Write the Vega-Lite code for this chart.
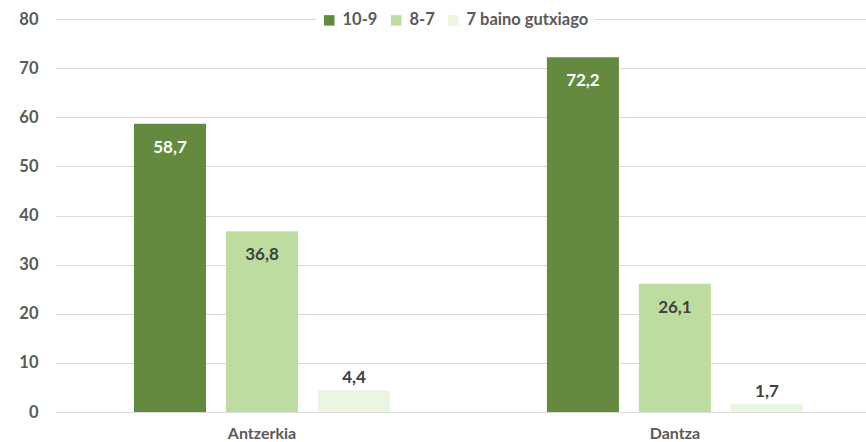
{
  "$schema": "https://vega.github.io/schema/vega-lite/v6.json",
  "width": 811,
  "height": 393,
  "autosize": {"type": "none"},
  "padding": {"left": 55, "top": 19, "right": 0, "bottom": 30},
  "background": "white",
  "config": {
    "locale": {"number": {"decimal": ",", "thousands": ".", "grouping": [3], "currency": ["", " €"]}},
    "view": {"stroke": null},
    "font": "Lato"
  },
  "data": {
    "values": [
      {"category": "Antzerkia", "group": "10-9", "value": 58.7},
      {"category": "Antzerkia", "group": "8-7", "value": 36.8},
      {"category": "Antzerkia", "group": "7 baino gutxiago", "value": 4.4},
      {"category": "Dantza", "group": "10-9", "value": 72.2},
      {"category": "Dantza", "group": "8-7", "value": 26.1},
      {"category": "Dantza", "group": "7 baino gutxiago", "value": 1.7}
    ]
  },
  "encoding": {
    "x": {
      "field": "category", "type": "nominal", "sort": ["Antzerkia", "Dantza"],
      "scale": {"paddingInner": 0.38, "paddingOuter": 0.172, "align": 0.556},
      "axis": {"title": null, "labelAngle": 0, "domain": false, "ticks": false, "labelPadding": 13, "labelFontSize": 16, "labelFontWeight": "bold", "labelColor": "#595959", "grid": false}
    },
    "xOffset": {"field": "group", "type": "nominal", "sort": ["10-9", "8-7", "7 baino gutxiago"], "scale": {"paddingInner": 0.217, "paddingOuter": 0}},
    "y": {
      "field": "value", "type": "quantitative",
      "scale": {"domain": [0, 80], "nice": false},
      "axis": {"title": null, "values": [0, 10, 20, 30, 40, 50, 60, 70, 80], "domain": false, "ticks": false, "labelPadding": 17, "labelFontSize": 16.5, "labelFontWeight": "bold", "labelColor": "#595959", "gridColor": "#d9d9d9", "gridWidth": 1}
    }
  },
  "layer": [
    {
      "mark": {"type": "bar"},
      "encoding": {
        "color": {
          "field": "group", "type": "nominal", "sort": ["10-9", "8-7", "7 baino gutxiago"],
          "scale": {"domain": ["10-9", "8-7", "7 baino gutxiago"], "range": ["#638a3f", "#bddc9f", "#ebf6e0"]},
          "legend": {
            "title": null, "orient": "none", "direction": "horizontal", "legendX": 261, "legendY": -12,
            "fillColor": "white", "padding": 5, "symbolType": "square", "symbolSize": 110, "symbolStrokeWidth": 0,
            "labelFontSize": 16.5, "labelFontWeight": "bold", "labelColor": "#595959", "labelOffset": 5, "columnPadding": 10
          }
        }
      }
    },
    {
      "transform": [{"filter": "datum.value >= 10"}],
      "mark": {"type": "text", "baseline": "middle", "dy": 24, "fontSize": 17, "fontWeight": "bold"},
      "encoding": {
        "text": {"field": "value", "type": "quantitative", "format": ".1f"},
        "color": {"condition": {"test": "datum.group === '10-9'", "value": "white"}, "value": "#404040"}
      }
    },
    {
      "transform": [{"filter": "datum.value < 10"}],
      "mark": {"type": "text", "baseline": "middle", "dy": -12, "fontSize": 17, "fontWeight": "bold", "color": "#404040"},
      "encoding": {
        "text": {"field": "value", "type": "quantitative", "format": ".1f"}
      }
    }
  ]
}
